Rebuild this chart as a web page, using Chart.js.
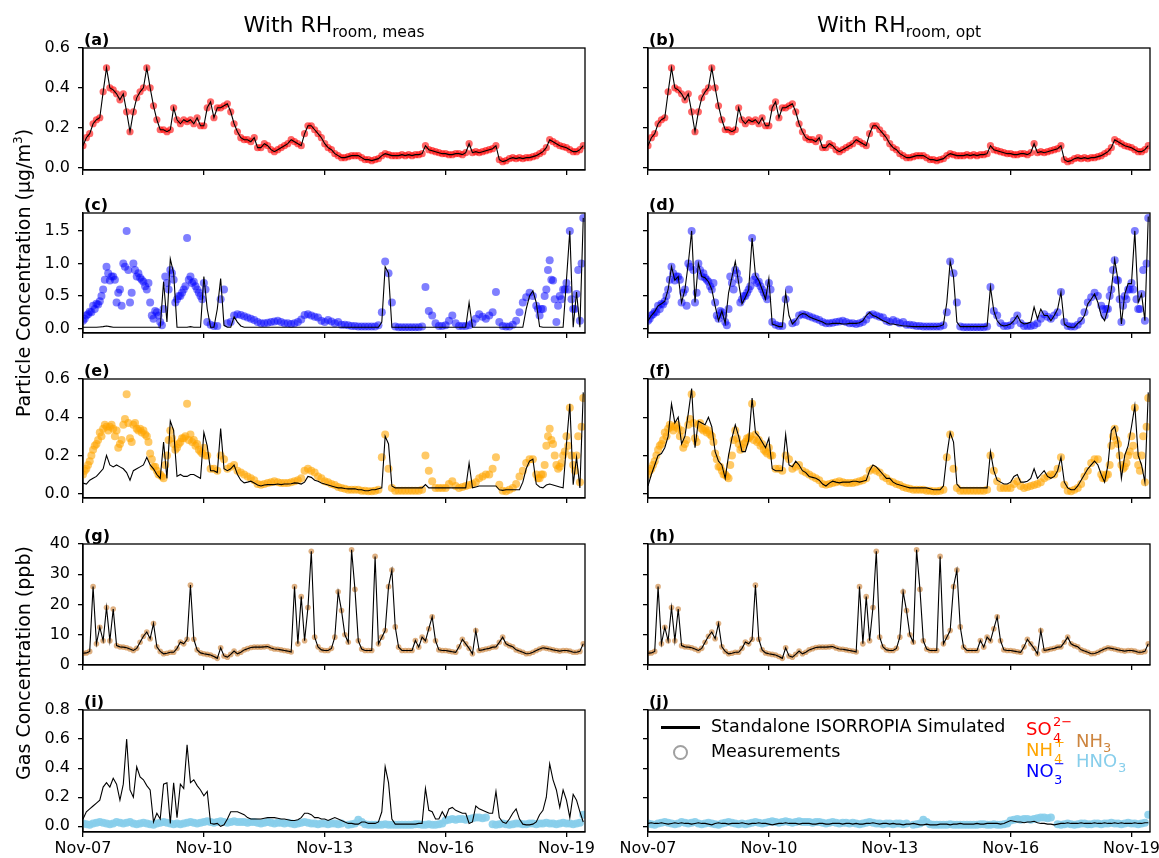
<!DOCTYPE html>
<html>
<head>
<meta charset="utf-8">
<script src="https://cdn.jsdelivr.net/npm/chart.js@4.4.0/dist/chart.umd.min.js"></script>
<style>
  html, body { margin: 0; padding: 0; background: #fff; overflow: hidden; }
  body { width: 1159px; height: 858px; position: relative; font-family: 'DejaVu Sans', sans-serif; color: #000; }
  canvas { position: absolute; }
  .txt { position: absolute; line-height: 1; white-space: nowrap; }
</style>
</head>
<body>
<script>
// one sample every 2 hours, starting Nov-07 00:00 (150 samples)
const sampleDays = Array.from({ length: 150 }, (_, i) => (i * 2) / 24);
// odd-hour aerosol samples read where the measurement cloud is dense
const earlyOddDays = Array.from({ length: 37 }, (_, k) => (2 * k + 1) / 24);
const lateOddDays = Array.from({ length: 14 }, (_, k) => (2 * (135 + k) + 1) / 24);

const tickDays = [0, 3, 6, 9, 12];
const tickLabels = ['Nov-07', 'Nov-10', 'Nov-13', 'Nov-16', 'Nov-19'];

const so4Ticks = [0, 0.2, 0.4, 0.6];
const no3Ticks = [0, 0.5, 1.0, 1.5];
const nh4Ticks = [0, 0.2, 0.4, 0.6];
const nh3Ticks = [0, 10, 20, 30, 40];
const hno3Ticks = [0, 0.2, 0.4, 0.6, 0.8];

// sulfate: simulated follows the measurement within the line width
const so4Values = [
  0.11,0.15,0.17,0.22,0.24,0.25,0.38,0.50,0.40,0.39,0.37,0.34,
  0.37,0.28,0.18,0.28,0.35,0.38,0.40,0.50,0.40,0.31,0.24,0.19,
  0.19,0.18,0.19,0.30,0.24,0.22,0.24,0.23,0.24,0.22,0.25,0.21,
  0.21,0.30,0.33,0.25,0.30,0.30,0.31,0.32,0.28,0.22,0.18,0.15,
  0.14,0.14,0.13,0.15,0.10,0.10,0.12,0.11,0.09,0.08,0.09,0.10,
  0.11,0.12,0.14,0.13,0.12,0.11,0.17,0.21,0.21,0.19,0.17,0.15,
  0.12,0.10,0.09,0.07,0.06,0.05,0.05,0.055,0.06,0.06,0.06,0.05,
  0.04,0.04,0.035,0.04,0.045,0.06,0.07,0.065,0.06,0.06,0.06,0.065,
  0.06,0.065,0.06,0.065,0.065,0.07,0.11,0.09,0.085,0.08,0.075,0.07,
  0.07,0.065,0.065,0.07,0.07,0.065,0.075,0.12,0.075,0.08,0.075,0.08,
  0.085,0.09,0.095,0.11,0.04,0.03,0.035,0.045,0.05,0.045,0.05,0.045,
  0.05,0.05,0.055,0.06,0.07,0.08,0.10,0.14,0.13,0.12,0.11,0.105,
  0.10,0.09,0.08,0.08,0.09,0.11
];

const no3Meas = [
  0.12,0.2,0.26,0.35,0.38,0.42,0.6,0.95,0.74,0.8,0.4,0.6,
  1.0,1.5,0.4,1.0,0.8,0.78,0.72,0.6,0.4,0.15,0.25,0.1,
  0.3,0.7,0.9,0.75,0.45,0.5,0.6,1.39,0.8,0.72,0.6,0.5,
  0.7,0.1,0.06,0.04,0.04,0.45,0.6,0.08,0.1,0.2,0.22,0.21,
  0.19,0.17,0.15,0.13,0.1,0.08,0.08,0.09,0.1,0.11,0.12,0.1,
  0.08,0.08,0.07,0.08,0.1,0.14,0.21,0.22,0.2,0.18,0.17,0.12,
  0.1,0.13,0.11,0.08,0.1,0.06,0.06,0.05,0.04,0.04,0.03,0.03,
  0.03,0.03,0.03,0.03,0.05,0.25,1.03,0.85,0.4,0.03,0.02,0.02,
  0.02,0.02,0.02,0.02,0.02,0.03,0.64,0.27,0.2,0.08,0.04,0.04,
  0.05,0.12,0.2,0.08,0.04,0.04,0.04,0.05,0.08,0.15,0.22,0.18,
  0.15,0.2,0.25,0.56,0.1,0.04,0.03,0.03,0.06,0.12,0.25,0.4,
  0.48,0.55,0.5,0.35,0.2,0.3,0.6,1.05,0.74,0.1,0.5,0.6,
  0.7,1.5,0.3,0.53,0.12,1.7
];
const no3MeasEarlyOdd = [
  0.15,0.22,0.25,0.3,0.37,0.5,0.75,0.85,0.8,0.75,0.55,0.35,
  0.95,0.9,0.55,0.9,0.85,0.75,0.65,0.7,0.2,0.27,0.2,0.05,
  0.8,0.6,0.85,0.4,0.5,0.55,0.65,0.75,0.7,0.65,0.55,0.45,
  0.6
];
const no3MeasLateOdd = [0.3,0.3,0.5,0.9,0.75,0.45,0.35,0.45,0.6,0.6,0.45,0.3,0.9,1.0];
const no3SimRhMeas = [
  0.02,0.02,0.02,0.02,0.02,0.025,0.03,0.04,0.03,0.02,0.02,0.02,
  0.02,0.02,0.02,0.02,0.02,0.02,0.02,0.02,0.02,0.02,0.02,0.02,
  0.72,0.1,1.07,0.85,0.02,0.02,0.02,0.02,0.03,0.02,0.02,0.02,
  0.8,0.3,0.02,0.02,0.3,0.77,0.05,0.02,0.02,0.18,0.1,0.04,
  0.02,0.02,0.02,0.02,0.02,0.02,0.02,0.02,0.02,0.02,0.02,0.02,
  0.02,0.02,0.02,0.02,0.02,0.02,0.02,0.02,0.02,0.02,0.02,0.02,
  0.02,0.02,0.02,0.02,0.02,0.02,0.02,0.02,0.02,0.02,0.02,0.02,
  0.02,0.02,0.02,0.02,0.02,0.1,0.95,0.85,0.02,0.02,0.02,0.02,
  0.02,0.02,0.02,0.02,0.02,0.02,0.02,0.02,0.02,0.02,0.02,0.02,
  0.02,0.02,0.02,0.02,0.02,0.02,0.02,0.4,0.02,0.02,0.02,0.02,
  0.02,0.02,0.02,0.02,0.02,0.02,0.02,0.02,0.02,0.02,0.02,0.02,
  0.3,0.5,0.58,0.4,0.03,0.02,0.02,0.02,0.02,0.02,0.02,0.02,
  0.75,1.5,0.02,0.56,0.02,1.7
];
const no3SimRhOpt = [
  0.12,0.2,0.26,0.35,0.38,0.42,0.6,0.95,0.74,0.8,0.4,0.6,
  1.0,1.5,0.4,1.0,0.8,0.78,0.72,0.6,0.35,0.12,0.27,0.08,
  0.55,0.79,1.03,0.7,0.38,0.48,0.6,1.39,0.82,0.74,0.6,0.45,
  0.77,0.07,0.05,0.03,0.03,0.55,0.2,0.07,0.12,0.2,0.23,0.22,
  0.18,0.16,0.14,0.12,0.1,0.07,0.07,0.08,0.08,0.08,0.07,0.07,
  0.08,0.08,0.08,0.09,0.12,0.2,0.25,0.2,0.18,0.15,0.12,0.1,
  0.07,0.07,0.06,0.05,0.04,0.04,0.035,0.03,0.03,0.03,0.03,0.03,
  0.03,0.03,0.03,0.04,0.06,0.4,1.03,0.79,0.1,0.03,0.03,0.03,
  0.03,0.03,0.03,0.03,0.03,0.04,0.64,0.27,0.12,0.06,0.04,0.05,
  0.07,0.12,0.2,0.1,0.07,0.08,0.1,0.33,0.15,0.3,0.2,0.2,
  0.12,0.2,0.3,0.56,0.07,0.03,0.02,0.02,0.08,0.12,0.2,0.38,
  0.45,0.53,0.4,0.2,0.12,0.3,0.6,1.06,0.74,0.07,0.53,0.69,
  0.69,1.5,0.4,0.53,0.12,1.72
];

const nh4Meas = [
  0.1,0.13,0.17,0.23,0.26,0.32,0.34,0.35,0.35,0.34,0.33,0.26,
  0.36,0.52,0.29,0.36,0.34,0.34,0.33,0.3,0.21,0.14,0.12,0.1,
  0.08,0.2,0.33,0.26,0.24,0.27,0.29,0.47,0.31,0.28,0.26,0.22,
  0.24,0.2,0.13,0.13,0.12,0.2,0.18,0.13,0.14,0.15,0.12,0.11,
  0.1,0.09,0.08,0.07,0.05,0.047,0.05,0.056,0.06,0.065,0.06,0.056,
  0.056,0.056,0.06,0.065,0.07,0.08,0.12,0.13,0.12,0.11,0.09,0.08,
  0.065,0.06,0.05,0.045,0.035,0.03,0.025,0.02,0.02,0.02,0.02,0.015,
  0.015,0.012,0.012,0.015,0.02,0.19,0.31,0.13,0.03,0.015,0.015,0.015,
  0.015,0.015,0.015,0.015,0.015,0.02,0.2,0.12,0.065,0.03,0.03,0.03,
  0.03,0.05,0.065,0.04,0.03,0.035,0.04,0.045,0.05,0.06,0.08,0.09,
  0.1,0.1,0.13,0.19,0.047,0.015,0.012,0.02,0.03,0.05,0.09,0.12,
  0.16,0.18,0.18,0.1,0.08,0.1,0.25,0.34,0.26,0.15,0.14,0.2,
  0.3,0.45,0.15,0.2,0.06,0.5
];
const nh4MeasEarlyOdd = [
  0.12,0.15,0.2,0.25,0.28,0.3,0.36,0.33,0.36,0.3,0.24,0.28,
  0.39,0.37,0.27,0.37,0.33,0.32,0.31,0.27,0.18,0.14,0.1,0.09,
  0.15,0.28,0.29,0.23,0.26,0.29,0.3,0.28,0.27,0.25,0.23,0.21,
  0.2
];
const nh4MeasLateOdd = [0.08,0.1,0.15,0.3,0.28,0.2,0.13,0.16,0.22,0.25,0.2,0.12,0.3,0.35];
const nh4SimRhMeas = [
  0.055,0.05,0.07,0.08,0.09,0.11,0.13,0.2,0.15,0.14,0.15,0.14,
  0.13,0.11,0.07,0.12,0.13,0.14,0.15,0.19,0.15,0.13,0.1,0.08,
  0.27,0.08,0.38,0.33,0.09,0.1,0.09,0.09,0.1,0.1,0.09,0.08,
  0.32,0.25,0.12,0.12,0.11,0.34,0.13,0.12,0.13,0.15,0.1,0.07,
  0.056,0.06,0.065,0.055,0.045,0.04,0.045,0.047,0.047,0.047,0.05,0.047,
  0.05,0.05,0.052,0.056,0.055,0.05,0.06,0.09,0.085,0.07,0.065,0.056,
  0.05,0.045,0.04,0.035,0.03,0.03,0.027,0.025,0.025,0.025,0.02,0.02,
  0.015,0.015,0.02,0.02,0.025,0.03,0.3,0.26,0.04,0.03,0.03,0.03,
  0.03,0.03,0.03,0.03,0.03,0.03,0.047,0.03,0.03,0.03,0.03,0.03,
  0.03,0.03,0.03,0.03,0.03,0.03,0.03,0.16,0.03,0.035,0.04,0.04,
  0.04,0.04,0.04,0.04,0.02,0.017,0.02,0.02,0.02,0.02,0.02,0.06,
  0.13,0.17,0.18,0.05,0.035,0.03,0.045,0.05,0.045,0.04,0.035,0.03,
  0.26,0.47,0.047,0.19,0.03,0.53
];
const nh4SimRhOpt = [
  0.04,0.1,0.15,0.2,0.21,0.24,0.3,0.47,0.37,0.4,0.26,0.3,
  0.42,0.55,0.24,0.38,0.37,0.36,0.4,0.35,0.22,0.17,0.15,0.08,
  0.2,0.29,0.36,0.3,0.22,0.22,0.28,0.5,0.32,0.3,0.27,0.24,
  0.29,0.13,0.12,0.12,0.12,0.31,0.15,0.14,0.17,0.15,0.12,0.11,
  0.09,0.085,0.08,0.07,0.05,0.04,0.055,0.065,0.06,0.056,0.06,0.06,
  0.06,0.065,0.065,0.06,0.065,0.07,0.12,0.15,0.14,0.12,0.1,0.08,
  0.08,0.06,0.05,0.045,0.04,0.035,0.03,0.03,0.03,0.03,0.03,0.03,
  0.025,0.02,0.02,0.02,0.04,0.2,0.32,0.27,0.05,0.03,0.03,0.03,
  0.03,0.03,0.03,0.03,0.03,0.03,0.22,0.12,0.07,0.06,0.05,0.05,
  0.06,0.09,0.1,0.06,0.06,0.065,0.08,0.13,0.08,0.1,0.12,0.09,
  0.08,0.09,0.12,0.19,0.06,0.03,0.02,0.02,0.04,0.07,0.1,0.13,
  0.15,0.17,0.15,0.1,0.06,0.15,0.33,0.35,0.27,0.08,0.2,0.25,
  0.35,0.46,0.2,0.15,0.06,0.53
];

// NH3: simulated and measured overlap in both columns
const nh3Values = [
  3.9,4.0,4.5,25.9,7,12.5,8,19,8,18.5,6.4,6,
  5.9,5.7,5.3,4.8,5.5,7.5,9.5,10.9,8.7,13.7,6,4.5,
  3.7,3.9,4.2,4.2,5.5,7.6,7,8.5,26.4,8.5,5,4,
  3.7,3.5,3.3,2.8,2.2,5.7,3.0,2.6,3.5,4.6,3.7,4.2,
  5,5.4,5.8,5.9,5.9,5.9,6.0,6.1,5.6,5.3,5.2,5.0,
  4.8,4.6,4.3,25.9,7,22.6,8,19,37.6,9.2,6,5,
  4.8,4.8,5.5,9.2,24.2,18,10,7.5,38.1,25,8,5.3,
  4.8,4.8,4.8,35.9,7,9.2,11.4,25.9,31.4,12.6,5.9,4.8,
  4.8,4.8,4.8,8.1,5.9,9.2,8,12,15.9,8,5,4.8,
  4.8,4.6,4.4,4.2,6,8.5,7,5.5,3.7,11.4,4.8,5,
  5.3,5.5,5.9,6,7.5,9.2,7,6.4,6,5,4.6,4.2,
  3.7,3.8,4.2,4.8,5.3,5.7,5.5,5.3,5,4.8,4.6,4.8,
  4.8,4.6,4.2,4.2,4.5,7
];

const hno3Meas = [
  0.02,0.015,0.01,0.02,0.025,0.03,0.025,0.02,0.015,0.02,0.03,0.025,
  0.02,0.025,0.03,0.02,0.015,0.02,0.025,0.02,0.015,0.01,0.02,0.025,
  0.03,0.025,0.02,0.015,0.02,0.015,0.02,0.025,0.03,0.025,0.02,0.025,
  0.03,0.035,0.03,0.025,0.03,0.035,0.03,0.025,0.03,0.035,0.03,0.03,
  0.03,0.025,0.03,0.03,0.025,0.02,0.025,0.03,0.025,0.02,0.025,0.025,
  0.02,0.025,0.02,0.015,0.02,0.025,0.03,0.025,0.02,0.02,0.015,0.02,
  0.02,0.015,0.02,0.02,0.015,0.02,null,0.01,0.015,0.02,0.045,0.03,
  0.015,0.01,0.01,0.01,0.01,0.01,0.015,0.01,0.01,0.01,0.01,0.01,
  0.01,0.01,0.01,0.015,0.015,0.01,0.01,0.015,0.01,0.01,0.015,0.02,
  0.04,0.045,0.05,0.045,0.05,0.05,0.045,0.05,0.055,0.06,0.06,0.055,
  0.06,null,0.015,0.01,0.015,0.02,0.015,0.01,0.015,0.02,0.02,0.015,
  0.015,0.02,0.02,0.015,0.02,0.02,0.025,0.02,0.02,0.015,0.02,0.025,
  0.02,0.02,0.015,0.02,0.025,0.08
];
const hno3SimRhMeas = [
  0.05,0.1,0.12,0.14,0.16,0.18,0.27,0.3,0.27,0.33,0.29,0.18,
  0.29,0.6,0.25,0.2,0.41,0.34,0.32,0.28,0.25,0.03,0.09,0.05,
  0.29,0.3,0.02,0.3,0.06,0.29,0.26,0.56,0.3,0.32,0.28,0.25,
  0.21,0.24,0.02,0.015,0.02,0.0,0.01,0.05,0.1,0.1,0.1,0.09,
  0.08,0.06,0.05,0.05,0.05,0.05,0.055,0.06,0.06,0.06,0.055,0.05,
  0.05,0.045,0.04,0.04,0.045,0.06,0.09,0.09,0.08,0.06,0.06,0.05,
  0.05,0.04,0.05,0.06,0.05,0.04,0.03,0.02,0.02,0.015,0.015,0.03,
  0.03,0.02,0.02,0.02,0.03,0.1,0.41,0.3,0.05,0.015,0.015,0.015,
  0.015,0.015,0.015,0.015,0.02,0.02,0.26,0.11,0.1,0.05,0.05,0.1,
  0.06,0.12,0.13,0.11,0.1,0.09,0.09,0.02,0.03,0.14,0.12,0.11,
  0.1,0.09,0.09,0.24,0.06,0.03,0.02,0.05,0.09,0.12,0.05,0.015,
  0.01,0.01,0.015,0.03,0.08,0.11,0.2,0.43,0.32,0.25,0.13,0.25,
  0.18,0.06,0.22,0.18,0.1,0.03
];
const hno3SimRhOpt = [
  0.02,0.025,0.02,0.02,0.025,0.02,0.015,0.02,0.025,0.02,0.025,0.02,
  0.02,0.015,0.02,0.025,0.02,0.02,0.015,0.01,0.02,0.025,0.02,0.02,
  0.015,0.02,0.02,0.02,0.025,0.02,0.015,0.02,0.02,0.025,0.02,0.02,
  0.015,0.01,0.015,0.02,0.02,0.025,0.02,0.02,0.02,0.015,0.02,0.02,
  0.02,0.015,0.015,0.02,0.02,0.015,0.015,0.02,0.02,0.02,0.015,0.02,
  0.02,0.015,0.02,0.015,0.015,0.02,0.02,0.025,0.02,0.015,0.02,0.02,
  0.015,0.02,0.015,0.015,0.01,0.015,0.015,0.02,0.015,0.01,0.01,0.015,
  0.01,0.01,0.01,0.015,0.015,0.015,0.01,0.015,0.015,0.02,0.015,0.015,
  0.015,0.015,0.02,0.015,0.015,0.02,0.02,0.02,0.02,0.015,0.02,0.03,
  0.04,0.035,0.03,0.03,0.025,0.03,0.03,0.035,0.025,0.02,0.02,0.015,
  0.015,0.01,0.015,0.02,0.02,0.025,0.02,0.02,0.02,0.025,0.02,0.02,
  0.02,0.025,0.02,0.02,0.025,0.02,0.02,0.025,0.02,0.025,0.02,0.02,
  0.02,0.025,0.02,0.02,0.025,0.025
];

// ---- layout (pixels) ----
const ROWS = [[48, 170], [213, 333], [379, 498], [544, 665], [710, 832]];
const COLS = [
  { canvasLeft: 0, plotLeft: 83, plotRight: 585, showLabels: true },
  { canvasLeft: 600, plotLeft: 648, plotRight: 1150, showLabels: false }
];
const PAD_TOP = 20, PAD_RIGHT = 24, PAD_BOTTOM = 32;
const X_MAX = 12.46;

const RED = 'rgba(255,0,0,0.6)';
const BLUE = 'rgba(0,0,255,0.5)';
const ORANGE = 'rgba(255,165,0,0.6)';
const PERU = 'rgba(205,133,63,0.65)';
const SKY = 'rgba(135,206,235,0.9)';

const no3Extra = [[earlyOddDays, no3MeasEarlyOdd], [lateOddDays, no3MeasLateOdd]];
const nh4Extra = [[earlyOddDays, nh4MeasEarlyOdd], [lateOddDays, nh4MeasLateOdd]];

const panels = [
  { tag: '(a)', row: 0, col: 0, sim: so4Values, meas: so4Values, color: RED, r: 3.6, yMin: -0.012, yMax: 0.6, yTicks: so4Ticks, digits: 1 },
  { tag: '(b)', row: 0, col: 1, sim: so4Values, meas: so4Values, color: RED, r: 3.6, yMin: -0.012, yMax: 0.6, yTicks: so4Ticks, digits: 1 },
  { tag: '(c)', row: 1, col: 0, sim: no3SimRhMeas, meas: no3Meas, extra: no3Extra, color: BLUE, r: 4, yMin: -0.068, yMax: 1.775, yTicks: no3Ticks, digits: 1 },
  { tag: '(d)', row: 1, col: 1, sim: no3SimRhOpt, meas: no3Meas, extra: no3Extra, color: BLUE, r: 4, yMin: -0.068, yMax: 1.775, yTicks: no3Ticks, digits: 1 },
  { tag: '(e)', row: 2, col: 0, sim: nh4SimRhMeas, meas: nh4Meas, extra: nh4Extra, color: ORANGE, r: 4, yMin: -0.023, yMax: 0.6, yTicks: nh4Ticks, digits: 1 },
  { tag: '(f)', row: 2, col: 1, sim: nh4SimRhOpt, meas: nh4Meas, extra: nh4Extra, color: ORANGE, r: 4, yMin: -0.023, yMax: 0.6, yTicks: nh4Ticks, digits: 1 },
  { tag: '(g)', row: 3, col: 0, sim: nh3Values, meas: nh3Values, color: PERU, r: 2.8, yMin: 0, yMax: 40, yTicks: nh3Ticks, digits: 0 },
  { tag: '(h)', row: 3, col: 1, sim: nh3Values, meas: nh3Values, color: PERU, r: 2.8, yMin: 0, yMax: 40, yTicks: nh3Ticks, digits: 0 },
  { tag: '(i)', row: 4, col: 0, sim: hno3SimRhMeas, meas: hno3Meas, color: SKY, r: 4, yMin: -0.039, yMax: 0.8, yTicks: hno3Ticks, digits: 1 },
  { tag: '(j)', row: 4, col: 1, sim: hno3SimRhOpt, meas: hno3Meas, color: SKY, r: 4, yMin: -0.039, yMax: 0.8, yTicks: hno3Ticks, digits: 1 }
];

Chart.defaults.font.family = "'DejaVu Sans', sans-serif";

const framePlugin = {
  id: 'frame',
  afterDraw(chart) {
    const { ctx, chartArea: a } = chart;
    ctx.save();
    ctx.strokeStyle = '#000';
    ctx.lineWidth = 1.3;
    ctx.strokeRect(a.left, a.top, a.right - a.left, a.bottom - a.top);
    ctx.restore();
  }
};

function toPoints(days, values) {
  return days.map((d, i) => ({ x: d, y: values[i] }));
}

function addText(html, x, baseline, size, extra) {
  const el = document.createElement('div');
  el.className = 'txt';
  el.innerHTML = html;
  el.style.left = x + 'px';
  el.style.top = (baseline - 0.846 * size) + 'px';
  el.style.fontSize = size + 'px';
  Object.assign(el.style, extra || {});
  document.body.appendChild(el);
  return el;
}

function addRotated(html, cx, cy, size) {
  const el = document.createElement('div');
  el.className = 'txt';
  el.innerHTML = html;
  el.style.fontSize = size + 'px';
  el.style.left = cx + 'px';
  el.style.top = cy + 'px';
  el.style.transform = 'translate(-50%, -50%) rotate(-90deg)';
  document.body.appendChild(el);
}

panels.forEach(p => {
  const [top, bottom] = ROWS[p.row];
  const col = COLS[p.col];
  const w = col.plotRight + PAD_RIGHT - col.canvasLeft;
  const h = bottom - top + PAD_TOP + PAD_BOTTOM;
  const canvas = document.createElement('canvas');
  canvas.width = w;
  canvas.height = h;
  canvas.style.left = col.canvasLeft + 'px';
  canvas.style.top = (top - PAD_TOP) + 'px';
  canvas.style.width = w + 'px';
  canvas.style.height = h + 'px';
  document.body.appendChild(canvas);

  const yAxisWidth = col.plotLeft - col.canvasLeft;
  const isBottom = p.row === ROWS.length - 1;
  const tickGrid = { drawOnChartArea: false, drawTicks: true, tickLength: 5, color: '#000', lineWidth: 1.3 };
  const axisLine = { display: true, color: '#000', width: 1.3 };

  const measStyle = { showLine: false, pointRadius: p.r, pointBackgroundColor: p.color, pointBorderWidth: 0, clip: 0 };
  const datasets = [
    { data: toPoints(sampleDays, p.sim), showLine: true, borderColor: '#000', borderWidth: 1.1, pointRadius: 0, clip: 0 },
    Object.assign({ data: toPoints(sampleDays, p.meas) }, measStyle)
  ];
  (p.extra || []).forEach(([days, values]) => {
    datasets.push(Object.assign({ data: toPoints(days, values) }, measStyle));
  });

  new Chart(canvas, {
    type: 'scatter',
    data: { datasets },
    options: {
      animation: false,
      responsive: false,
      devicePixelRatio: 1,
      layout: { padding: { top: PAD_TOP, right: PAD_RIGHT, left: 0, bottom: 0 } },
      plugins: { legend: { display: false }, tooltip: { enabled: false } },
      scales: {
        x: {
          type: 'linear', min: 0, max: X_MAX,
          afterBuildTicks: s => { s.ticks = tickDays.map(v => ({ value: v })); },
          afterFit: s => { s.height = PAD_BOTTOM; s.paddingLeft = 0; s.paddingRight = 0; },
          ticks: { display: isBottom, autoSkip: false, maxRotation: 0, padding: 2, color: '#000', font: { size: 16 },
                   callback: (v, i) => tickLabels[i] },
          grid: tickGrid,
          border: axisLine
        },
        y: {
          min: p.yMin, max: p.yMax,
          afterBuildTicks: s => { s.ticks = p.yTicks.map(v => ({ value: v })); },
          afterFit: s => { s.width = yAxisWidth; s.paddingTop = 0; s.paddingBottom = 0; },
          ticks: { display: col.showLabels, padding: 8, color: '#000', font: { size: 16 },
                   callback: v => Number(v).toFixed(p.digits) },
          grid: tickGrid,
          border: axisLine
        }
      }
    },
    plugins: [framePlugin]
  });

  addText(p.tag, col.plotLeft + 1, top - 2, 16, { fontWeight: 'bold' });
});

// column titles
addText('With RH<span style="font-size:15.5px;position:relative;top:5px">room, meas</span>', 334, 33, 22, { transform: 'translateX(-50%)' });
addText('With RH<span style="font-size:15.5px;position:relative;top:5px">room, opt</span>', 899, 33, 22, { transform: 'translateX(-50%)' });

// axis titles
addRotated('Particle Concentration (\u03bcg/m<sup style="font-size:12px;line-height:0">3</sup>)', 23, 273, 19);
addRotated('Gas Concentration (ppb)', 23, 663, 19);

// legend in panel (j)
const lineSample = document.createElement('div');
Object.assign(lineSample.style, { position: 'absolute', left: '661px', top: '726px', width: '39px', height: '3px', background: '#000' });
document.body.appendChild(lineSample);
const circleSample = document.createElement('div');
Object.assign(circleSample.style, { position: 'absolute', left: '673px', top: '745px', width: '11px', height: '11px',
  border: '2px solid rgba(120,120,120,0.7)', borderRadius: '50%' });
document.body.appendChild(circleSample);
addText('Standalone ISORROPIA Simulated', 711, 733, 17.5);
addText('Measurements', 711, 758, 17.5);

// species colour key
addText('SO', 1026, 735, 18, { color: '#ff0000' });
addText('4', 1053, 742, 13, { color: '#ff0000' });
addText('2\u2212', 1053, 726, 13, { color: '#ff0000' });
addText('NH', 1026, 756, 18, { color: '#ffa500' });
addText('4', 1054, 763, 13, { color: '#ffa500' });
addText('+', 1054, 747, 13, { color: '#ffa500' });
addText('NO', 1026, 777, 18, { color: '#0000ff' });
addText('3', 1054, 784, 13, { color: '#0000ff' });
addText('\u2212', 1054, 768, 13, { color: '#0000ff' });
addText('NH', 1076, 747, 18, { color: '#cd853f' });
addText('3', 1103, 752, 13, { color: '#cd853f' });
addText('HNO', 1076, 767, 18, { color: '#87ceeb' });
addText('3', 1118, 772, 13, { color: '#87ceeb' });
</script>
</body>
</html>
